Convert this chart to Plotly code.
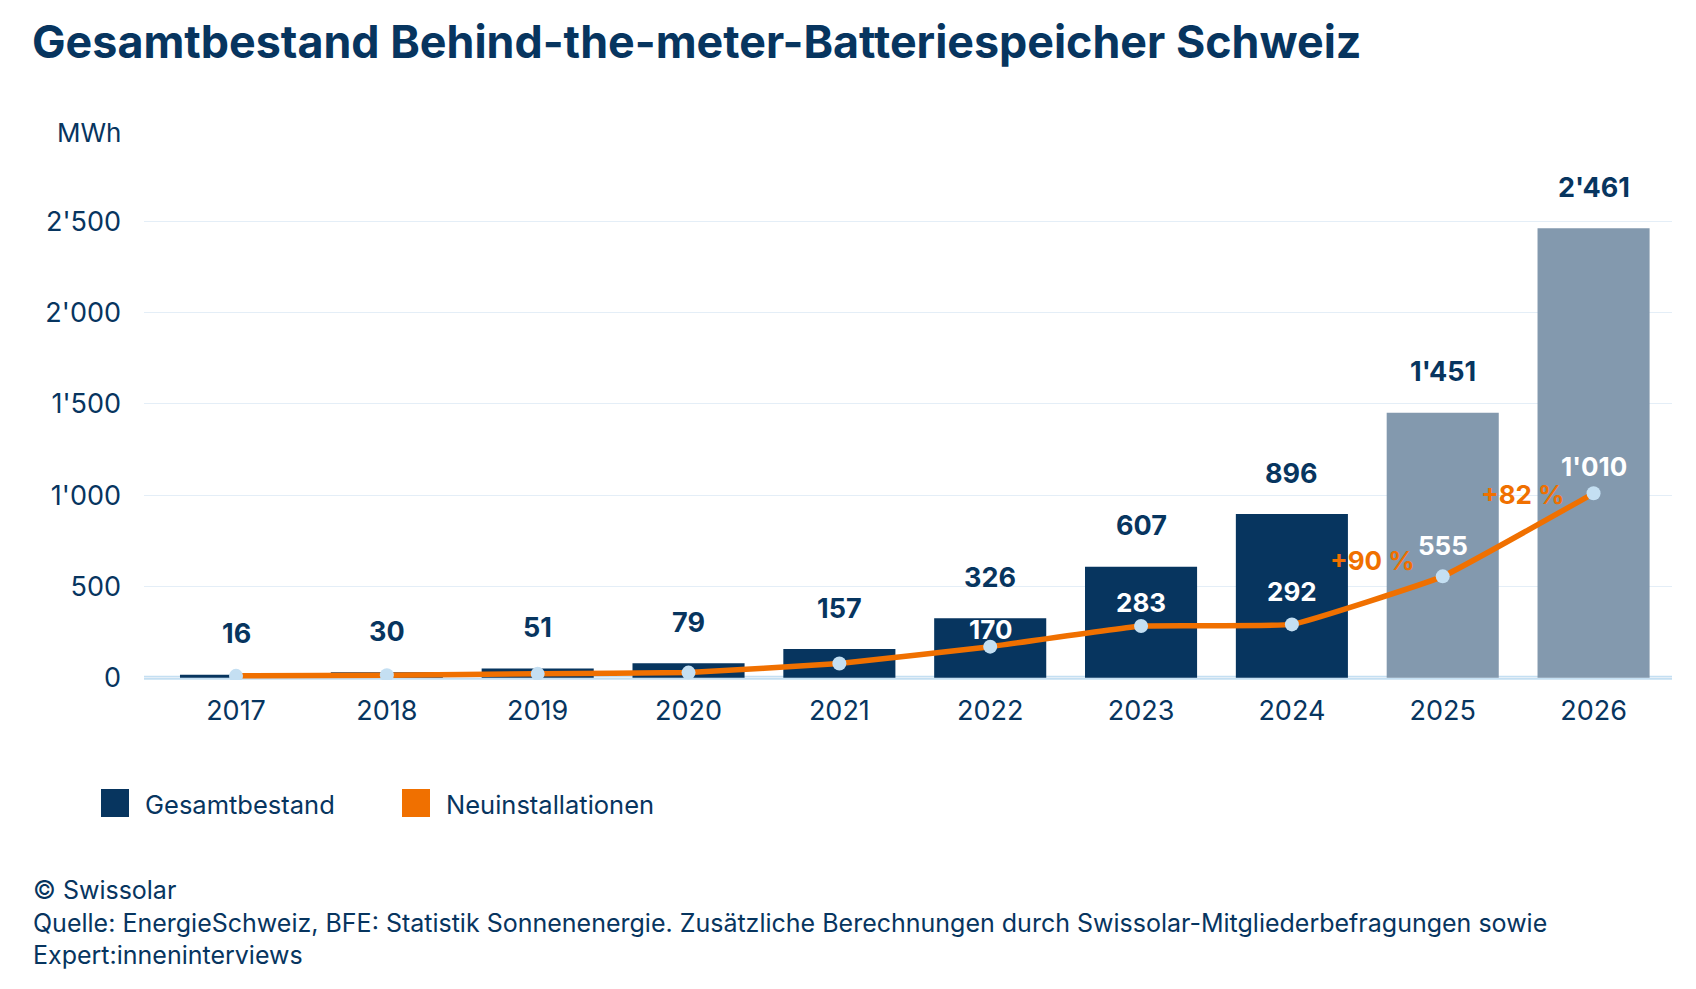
import plotly.graph_objects as go

# ---- data ----
years = ["2017", "2018", "2019", "2020", "2021", "2022", "2023", "2024", "2025", "2026"]
gesamtbestand = [16, 30, 51, 79, 157, 326, 607, 896, 1451, 2461]
neuinstallationen = [10, 14, 21, 28, 78, 170, 283, 292, 555, 1010]
forecast_years = ["2025", "2026"]
growth_labels = ["+90 %", "+82 %"]          # growth between 2024->2025 and 2025->2026
growth_from = ["2024", "2025"]
line_label_years = ["2022", "2023", "2024", "2025", "2026"]
ytick_vals = [0, 500, 1000, 1500, 2000, 2500]
ytick_text = ["0", "500", "1'000", "1'500", "2'000", "2'500"]
series_names = ["Gesamtbestand", "Neuinstallationen"]
title_text = "Gesamtbestand Behind-the-meter-Batteriespeicher Schweiz"
unit_text = "MWh"
footer_lines = [
    "© Swissolar",
    "Quelle: EnergieSchweiz, BFE: Statistik Sonnenenergie. Zusätzliche Berechnungen durch Swissolar-Mitgliederbefragungen sowie",
    "Expert:inneninterviews",
]

# ---- styles ----
NAVY = "#07355f"
GREY = "#8399ae"
ORANGE = "#f07000"
LIGHT = "#c4dff2"
GRID = "#e4eef7"
FONT = "Inter"
LINE_LABEL_SHIFT = [17, 24, 33, 31, 27]   # pixel offsets of the line labels (style)

OFF = 8  # page offset of the figure inside the browser window
W, H = 1696, 989
L, R, T, B = 144 - OFF, 24 + OFF, 150 - OFF, 309 + OFF
PW, PH = W - L - R, H - T - B


def px_x(p):
    return (p - OFF - L) / PW


def px_y(p):
    return (H - B - (p - OFF)) / PH


def fmt(v):
    return f"{v:,}".replace(",", "'")


bar_colors = [GREY if y in forecast_years else NAVY for y in years]

fig = go.Figure()
fig.add_trace(go.Bar(
    x=years, y=gesamtbestand, marker=dict(color=bar_colors, line=dict(width=0)),
    width=0.743, name=series_names[0], showlegend=False, hoverinfo="x+y",
))
fig.add_trace(go.Scatter(
    x=years, y=neuinstallationen, mode="lines+markers", name=series_names[1],
    line=dict(color=ORANGE, width=5.5, shape="spline", smoothing=0.3),
    marker=dict(color=LIGHT, size=14, line=dict(width=0)),
    showlegend=False,
))

annotations = []
# bar value labels
for i, v in enumerate(gesamtbestand):
    annotations.append(dict(
        x=i, y=v, xref="x", yref="y", text=f"<b>{fmt(v)}</b>", showarrow=False,
        yshift=41, font=dict(family=FONT, size=27, color=NAVY),
    ))
# line value labels
k = 0
for i, v in enumerate(neuinstallationen):
    if years[i] in line_label_years:
        annotations.append(dict(
            x=i, y=v, xref="x", yref="y", text=f"<b>{fmt(v)}</b>", showarrow=False,
            yshift=LINE_LABEL_SHIFT[k], font=dict(family=FONT, size=26, color="white"),
        ))
        k += 1
# growth labels, placed at segment midpoints
for g, y0 in zip(growth_labels, growth_from):
    i = years.index(y0)
    mid_x = i + 0.5
    mid_y = (neuinstallationen[i] + neuinstallationen[i + 1]) / 2
    annotations.append(dict(
        x=mid_x, y=mid_y, xref="x", yref="y", text=f"<b>{g}</b>", showarrow=False,
        xshift=5, yshift=40, font=dict(family=FONT, size=26, color=ORANGE),
    ))
# unit label
annotations.append(dict(
    x=px_x(123), y=px_y(132), xref="paper", yref="paper", text=unit_text,
    showarrow=False, xanchor="right", yanchor="middle",
    font=dict(family=FONT, size=26, color=NAVY),
))
# custom legend
legend_items = [(series_names[0], NAVY, 101), (series_names[1], ORANGE, 402)]
shapes = []
for name, col, x0 in legend_items:
    shapes.append(dict(
        type="rect", xref="paper", yref="paper",
        x0=px_x(x0), x1=px_x(x0 + 28), y0=px_y(817), y1=px_y(789),
        fillcolor=col, line=dict(width=0),
    ))
    annotations.append(dict(
        x=px_x(x0 + 42), y=px_y(804), xref="paper", yref="paper", text=name,
        showarrow=False, xanchor="left", yanchor="middle",
        font=dict(family=FONT, size=25.5, color=NAVY),
    ))
# footer
annotations.append(dict(
    x=px_x(31), y=px_y(873), xref="paper", yref="paper",
    text="<br>".join(footer_lines), showarrow=False, xanchor="left", yanchor="top",
    align="left", font=dict(family=FONT, size=25, color=NAVY),
))
# baseline
shapes.append(dict(
    type="line", xref="paper", yref="y", x0=0, x1=1, y0=0, y1=0,
    line=dict(color=LIGHT, width=4), layer="below",
))

fig.update_layout(
    width=W, height=H,
    margin=dict(l=L, r=R, t=T, b=B, autoexpand=False),
    paper_bgcolor="white", plot_bgcolor="white",
    title=dict(
        text=f"<b>{title_text}</b>", x=(32 - OFF) / W, xref="container", xanchor="left",
        y=1 - (42 - OFF) / H, yref="container", yanchor="middle",
        font=dict(family=FONT, size=44.8, color=NAVY),
    ),
    xaxis=dict(
        type="category",
        range=[-0.61, 9.52], showgrid=False, zeroline=False, showline=False,
        ticks="", tickfont=dict(family=FONT, size=27, color=NAVY),
        ticklabelstandoff=12, fixedrange=True,
    ),
    yaxis=dict(
        range=[-12.6, 2890], tickvals=ytick_vals, ticktext=ytick_text,
        showgrid=True, gridcolor=GRID, gridwidth=1, zeroline=False, showline=False,
        ticks="", tickfont=dict(family=FONT, size=27, color=NAVY),
        ticklabelstandoff=22, fixedrange=True,
    ),
    annotations=annotations,
    shapes=shapes,
    showlegend=False,
    bargap=0.26,
)

fig.write_html("out.html")
